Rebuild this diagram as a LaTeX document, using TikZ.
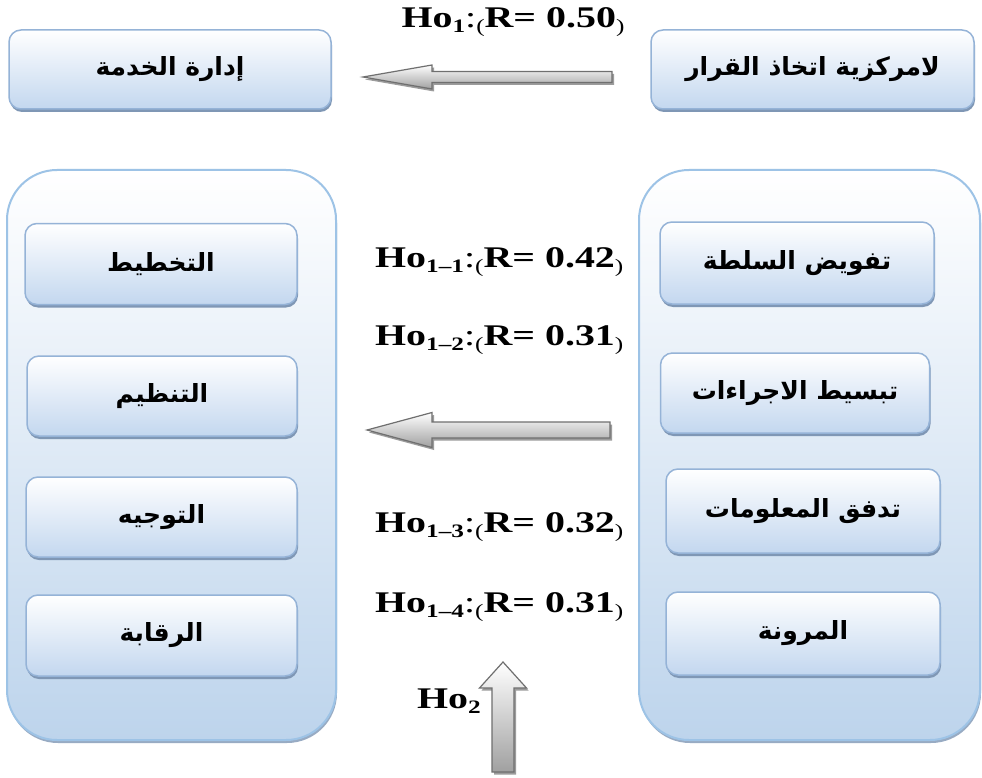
\documentclass[tikz,border=0pt]{standalone}
\usepackage{fontspec}
\setmainfont{Liberation Serif}[FakeStretch=1.33]
\newfontfamily\arabicfont[Script=Arabic]{DejaVu Sans}
\TeXXeTstate=1
\usetikzlibrary{shadows}

\definecolor{boxline}{HTML}{95B3D7}
\definecolor{boxfill}{HTML}{C3D7EF}
\definecolor{boxshadow}{HTML}{7F97B5}
\definecolor{panelline}{HTML}{9DC3E6}
\definecolor{panelfill}{HTML}{BDD4EC}
\definecolor{arrowline}{HTML}{6F6F6F}
\definecolor{arrowfill}{HTML}{A0A0A0}

% hypothesis label: Ho_{sub}:(R= value)
\newcommand\hyplabel[2]{\textbf{Ho}\raisebox{-.35ex}{\fontsize{19}{19}\selectfont\textbf{#1}}:\raisebox{-.3ex}{\fontsize{19}{19}\selectfont(}\textbf{R= #2}\raisebox{-.3ex}{\fontsize{19}{19}\selectfont)}}

\tikzset{
  itembox/.style={rounded corners=12pt, draw=boxline, line width=1.5pt,
    top color=white, bottom color=boxfill,
    drop shadow={shadow xshift=1pt, shadow yshift=-3pt, fill=boxshadow, opacity=1},
    font=\arabicfont\bfseries\fontsize{25}{25}\selectfont, inner sep=0pt},
  panel/.style={rounded corners=50pt, draw=panelline, line width=2pt,
    top color=white, bottom color=panelfill,
    drop shadow={shadow xshift=1pt, shadow yshift=-3pt, fill=boxshadow, opacity=.8},
    inner sep=0pt},
  blockarrow/.style={draw=arrowline, line width=1.2pt, top color=white, bottom color=arrowfill,
    drop shadow={shadow xshift=2pt, shadow yshift=-2.5pt, fill=black!55, opacity=.7}},
  hlabel/.style={font=\fontsize{30}{30}\selectfont, inner sep=0pt, anchor=west}
}

\begin{document}
\begin{tikzpicture}[x=1pt, y=-1pt]
\useasboundingbox (0,0) rectangle (982,778);
\fill[white] (0,0) rectangle (982,778);

% top row
\node[itembox, minimum width=322pt, minimum height=79pt] (service) at (170,69.5)
  {\beginR إدارة الخدمة\endR};
\node[itembox, minimum width=323pt, minimum height=79pt] (decentral) at (812.5,69.5)
  {\beginR لامركزية اتخاذ القرار\endR};

% large panels
\node[panel, minimum width=329pt, minimum height=570pt] (leftpanel) at (171.5,455) {};
\node[panel, minimum width=341pt, minimum height=570pt] (rightpanel) at (809.5,455) {};

% service management dimensions
\node[itembox, minimum width=272pt, minimum height=81pt] (plan) at (161,264) {\beginR التخطيط\endR};
\node[itembox, minimum width=270pt, minimum height=80pt] (organize) at (162,396) {\beginR التنظيم\endR};
\node[itembox, minimum width=271pt, minimum height=80pt] (direct) at (161.5,517) {\beginR التوجيه\endR};
\node[itembox, minimum width=271pt, minimum height=81pt] (control) at (161.5,635.5) {\beginR الرقابة\endR};

% decentralisation dimensions
\node[itembox, minimum width=274pt, minimum height=82pt] (delegate) at (797,263) {\beginR تفويض السلطة\endR};
\node[itembox, minimum width=269pt, minimum height=80pt] (simplify) at (795,393) {\beginR تبسيط الاجراءات\endR};
\node[itembox, minimum width=274pt, minimum height=84pt] (infoflow) at (803,511) {\beginR تدفق المعلومات\endR};
\node[itembox, minimum width=274pt, minimum height=83pt] (flex) at (803,633.5) {\beginR المرونة\endR};

% hypothesis labels
\node[hlabel, anchor=center] (h1) at (513,22) {\hyplabel{1}{0.50}};
\node[hlabel] (h11) at (375,262) {\hyplabel{1--1}{0.42}};
\node[hlabel] (h12) at (375,340) {\hyplabel{1--2}{0.31}};
\node[hlabel] (h13) at (375,527) {\hyplabel{1--3}{0.32}};
\node[hlabel] (h14) at (375,607) {\hyplabel{1--4}{0.31}};
\node[hlabel, anchor=east] (h2) at (481,701) {\textbf{Ho}\raisebox{-.35ex}{\fontsize{19}{19}\selectfont\textbf{2}}};

% block arrows
\path[blockarrow] (612,71.5) -- (432,71.5) -- (432,65) -- (363,77) -- (432,89)
  -- (432,82.5) -- (612,82.5) -- cycle;
\path[blockarrow] (610,422) -- (432,422) -- (432,412.5) -- (367,430) -- (432,447.5)
  -- (432,438) -- (610,438) -- cycle;
\path[blockarrow] (492,772) -- (492,688) -- (479.5,688) -- (503,662) -- (526.5,688)
  -- (514,688) -- (514,772) -- cycle;
\end{tikzpicture}
\end{document}
